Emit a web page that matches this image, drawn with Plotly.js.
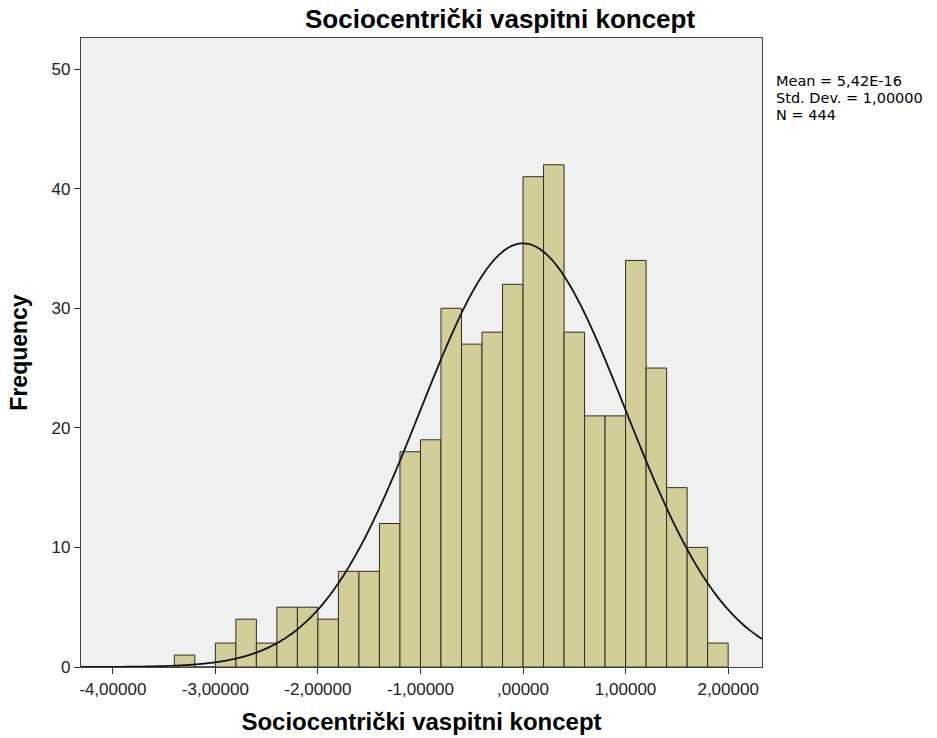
<!DOCTYPE html>
<html>
<head>
<meta charset="utf-8">
<script src="https://cdn.plot.ly/plotly-3.0.1.min.js"></script>
<style>html,body{margin:0;padding:0;background:#fff;}#chart{width:937px;height:738px;}</style>
</head>
<body>
<div id="chart"></div>
<script>
// Histogram bins (lower edges) and frequencies
const binLower = [-3.4, -3.2, -3.0, -2.8, -2.6, -2.4, -2.2, -2.0, -1.8, -1.6, -1.4, -1.2, -1.0, -0.8, -0.6, -0.4, -0.2, 0.0, 0.2, 0.4, 0.6, 0.8, 1.0, 1.2, 1.4, 1.6, 1.8];
const counts   = [1, 0, 2, 4, 2, 5, 5, 4, 8, 8, 12, 18, 19, 30, 27, 28, 32, 41, 42, 28, 21, 21, 34, 25, 15, 10, 2];
const binWidth = 0.2;

// Summary statistics shown in the chart
const meanVal = 5.42e-16;
const sdVal = 1.0;
const nVal = 444;
const statLines = ["Mean = 5,42E-16", "Std. Dev. = 1,00000", "N = 444"];

// Axis ticks
const xTickVals = [-4, -3, -2, -1, 0, 1, 2];
const xTickText = ["-4,00000", "-3,00000", "-2,00000", "-1,00000", ",00000", "1,00000", "2,00000"];
const yTickVals = [0, 10, 20, 30, 40, 50];

const xRange = [-4.31, 2.33];
const yRange = [0, 52.6];

// Fitted normal curve (from mean, sd, N and bin width)
const curveX = [], curveY = [];
const steps = 300;
for (let i = 0; i <= steps; i++) {
  const x = xRange[0] + (xRange[1] - xRange[0]) * i / steps;
  const z = (x - meanVal) / sdVal;
  curveX.push(x);
  curveY.push(nVal * binWidth / (sdVal * Math.sqrt(2 * Math.PI)) * Math.exp(-0.5 * z * z));
}

const FONT = "Liberation Sans, Arial, sans-serif";

const traces = [
  {
    type: "bar",
    x: binLower,
    y: counts,
    width: binWidth,
    offset: 0,
    marker: { color: "#d3ce97", line: { color: "#2e2e26", width: 1 } },
    hoverinfo: "x+y"
  },
  {
    type: "scatter",
    mode: "lines",
    x: curveX,
    y: curveY,
    line: { color: "#111", width: 1.8, shape: "spline" },
    hoverinfo: "skip"
  }
];

const statY = [81, 98, 115];
const annotations = statLines.map((t, i) => ({
  text: t,
  xref: "paper", yref: "paper",
  x: (774 - 81) / 681, xanchor: "left",
  y: 1 - (statY[i] - 38) / 629, yanchor: "middle",
  showarrow: false,
  font: { family: "DejaVu Sans, sans-serif", size: 14.5, color: "#000" }
}));

const layout = {
  width: 937, height: 738,
  margin: { l: 81, r: 175, t: 38, b: 71 },
  paper_bgcolor: "#ffffff",
  plot_bgcolor: "#f0f0f0",
  showlegend: false,
  bargap: 0,
  title: {
    text: "<b>Sociocentrički vaspitni koncept</b>",
    font: { family: FONT, size: 26, color: "#000" },
    xref: "container", x: 305 / 937, xanchor: "left",
    yref: "container", y: 1 - 18.5 / 738, yanchor: "middle"
  },
  xaxis: {
    range: xRange,
    tickvals: xTickVals, ticktext: xTickText,
    ticks: "outside", ticklen: 6, tickcolor: "#333", tickwidth: 1,
    showgrid: false, zeroline: false,
    showline: true, mirror: true, linecolor: "#444", linewidth: 1.2,
    tickfont: { family: FONT, size: 17, color: "#222" },
    title: { text: "<b>Sociocentrički vaspitni koncept</b>", font: { family: FONT, size: 24, color: "#000" }, standoff: 15 }
  },
  yaxis: {
    range: yRange,
    tickvals: yTickVals,
    ticks: "outside", ticklen: 6, tickcolor: "#333", tickwidth: 1,
    showgrid: false, zeroline: false,
    showline: true, mirror: true, linecolor: "#444", linewidth: 1.2,
    tickfont: { family: FONT, size: 17, color: "#222" },
    title: { text: "<b>Frequency</b>", font: { family: FONT, size: 23, color: "#000" }, standoff: 17 }
  },
  annotations: annotations
};

Plotly.newPlot("chart", traces, layout, { displayModeBar: false, staticPlot: true });
</script>
</body>
</html>
